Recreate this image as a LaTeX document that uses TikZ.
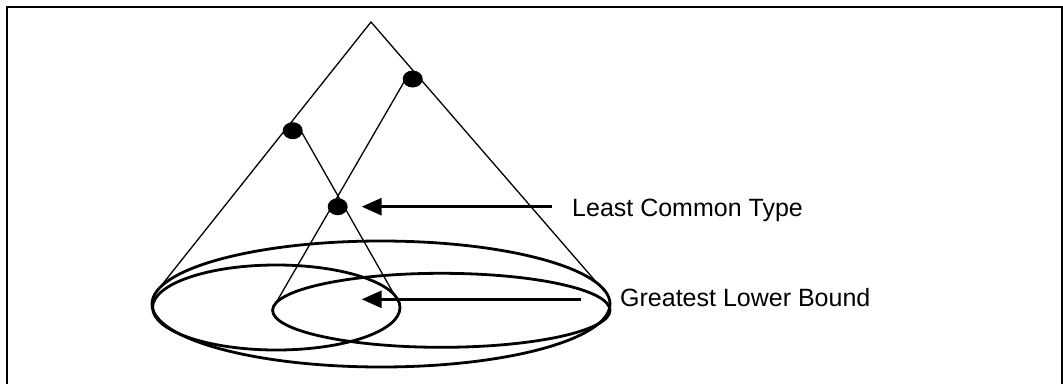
\documentclass[tikz,border=0pt]{standalone}
\usepackage{fontspec}
\setmainfont{Liberation Sans}
\usetikzlibrary{arrows.meta,shapes.geometric}
\begin{document}
\begin{tikzpicture}[x=1pt,y=-1pt,
  thinline/.style={line width=1.3pt},
  setline/.style={line width=2.8pt},
  framestyle/.style={line width=2pt},
  dotnode/.style={ellipse,fill=black,minimum width=20pt,minimum height=17pt,inner sep=0pt},
  pointer/.style={line width=3pt,-{Triangle[length=20pt,width=17pt]}},
  labeltext/.style={font=\fontsize{25}{30}\selectfont,inner sep=0pt,anchor=base west}]
\useasboundingbox (0,0) rectangle (1063,383);
% frame
\draw[framestyle] (7,390) -- (7,7) -- (1062,7) -- (1062,390);
% coordinates
\coordinate (apex) at (371,22);
\coordinate (lend) at (157,291);
\coordinate (rend) at (604,291);
\coordinate (astart) at (301,131);
\coordinate (aend) at (399,303);
\coordinate (bstart) at (404,82);
\coordinate (bend) at (273,308);
% lines
\draw[thinline] (lend) -- (apex) -- (rend);
\draw[thinline] (astart) -- (aend);
\draw[thinline] (bstart) -- (bend);
% ellipses
\draw[setline] (381,304) ellipse [x radius=229, y radius=63];
\draw[setline] (276.3,307.5) ellipse [x radius=123.7, y radius=42.5];
\draw[setline] (441.3,310.3) ellipse [x radius=168.7, y radius=37];
% dots
\node[dotnode] (dr) at (412.7,79) {};
\node[dotnode] (dl) at (292.7,130.7) {};
\node[dotnode] (lct) at (337.7,206.7) {};
% arrows
\coordinate (lcttail) at (552,206.7);
\coordinate (lcttip) at (361.7,206.7);
\coordinate (glbtail) at (581,299.3);
\coordinate (glbtip) at (361.7,299.3);
\draw[pointer] (lcttail) -- (lcttip);
\draw[pointer] (glbtail) -- (glbtip);
% labels
\node[labeltext] (lcttext) at (572,216.7) {Least Common Type};
\node[labeltext] (glbtext) at (620,306.7) {Greatest Lower Bound};
\end{tikzpicture}
\end{document}
